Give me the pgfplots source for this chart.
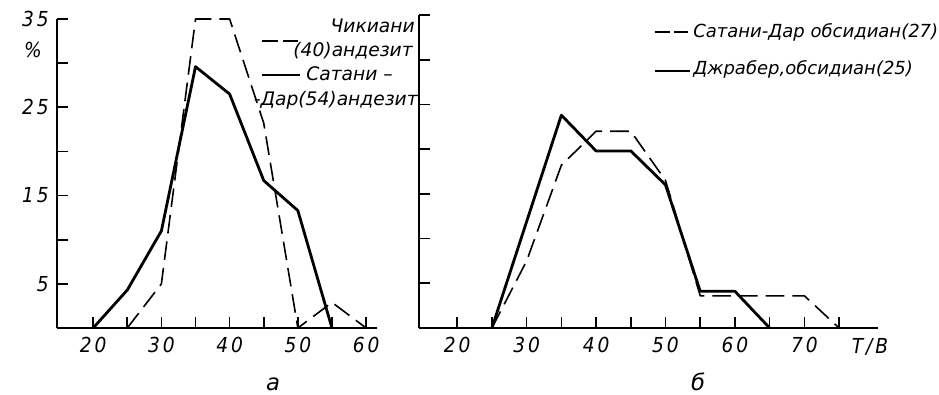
\documentclass[border=0pt]{standalone}
\usepackage{pgfplots}
\pgfplotsset{compat=1.18}
\usepackage{fontspec}
\setmainfont{DejaVu Sans Condensed}[ItalicFont={DejaVu Sans Condensed Oblique}]
\newfontfamily\tickfont{DejaVu Sans Condensed Oblique}[LetterSpace=14]
\newfontfamily\legfont{DejaVu Sans Oblique}

\pgfplotstableread{
x y
20 0
25 4.3
30 11
35 29.6
40 26.5
45 16.7
50 13.3
55 0
}\andsolid
\pgfplotstableread{
x y
25 0
30 5
35 35
40 35
45 23.2
50 0
55 2.9
60 0
}\anddashed
\pgfplotstableread{
x y
25 0
35 23.8
40 19.8
45 19.8
50 16
55 4.1
60 4.1
65 0
}\obssolid
\pgfplotstableread{
x y
25 0
30 7.5
35 18.2
40 22
45 22
50 16.5
55 3.6
70 3.6
75 0
}\obsdashed

\pgfplotsset{
  panel/.style={
    scale only axis,
    axis x line*=bottom, axis y line*=left,
    axis line style={line width=1.6pt},
    tick align=inside,
    major tick length=8pt,
    every tick/.style={line width=1.2pt, black},
    ymin=0, ymax=35,
    ytick={5,10,...,35},
    /pgf/number format/assume math mode=true,
    xticklabel style={font=\tickfont\fontsize{15.5}{16}\selectfont, anchor=north, inner sep=0pt, yshift=-7pt},
    yticklabel style={font=\tickfont\fontsize{15.5}{16}\selectfont, anchor=east, inner sep=0pt, xshift=-6pt},
    clip=false,
  },
  solidser/.style={black, line width=2.1pt, line join=round},
  dashser/.style={black, line width=1.2pt, dash pattern=on 14pt off 6pt, line join=round},
}

\begin{document}
\begin{tikzpicture}
\path (0,0) rectangle (704.25pt,294pt);

\begin{axis}[panel,
  at={(42.75pt,48pt)}, anchor=south west,
  width=240pt, height=231.75pt,
  xmin=14.7, xmax=61.6,
  xtick={20,25,...,60},
  xticklabels={20,,30,,40,,50,,60},
  yticklabels={5,,15,,25,,35},
]
\addplot[dashser] table[x=x,y=y] {\anddashed};
\addplot[solidser] table[x=x,y=y] {\andsolid};
\end{axis}

\begin{axis}[panel,
  at={(314.25pt,48pt)}, anchor=south west,
  width=344.25pt, height=234.75pt,
  xmin=14.5, xmax=80.6,
  xtick={20,25,...,75},
  xticklabels={20,,30,,40,,50,,60,,70,},
  yticklabels={},
]
\addplot[dashser] table[x=x,y=y] {\obsdashed};
\addplot[solidser] table[x=x,y=y] {\obssolid};
\end{axis}

% percent sign
\node[font=\tickfont\fontsize{15.5}{16}\selectfont] at (24.75pt,256.5pt) {\%};
% T/B
\node[font=\tickfont\fontsize{15.5}{16}\selectfont, anchor=base] at (652.5pt,29pt) {T/B};
% panel letters
\node[font=\legfont\fontsize{17}{18}\selectfont, anchor=base] at (204.75pt,1.5pt) {а};
\node[font=\legfont\fontsize{17}{18}\selectfont, anchor=base] at (523.5pt,1.5pt) {б};

% left legend
\begin{scope}[every node/.style={font=\legfont\fontsize{14}{15}\selectfont, inner sep=0pt}]
\node[anchor=base east] at (311.25pt,269.25pt) {Чикиани};
\node[anchor=base east] at (309.75pt,251.25pt) {(40)андезит};
\node[anchor=base east] at (294.75pt,233.25pt) {Сатани –};
\node[anchor=base east] at (313.5pt,214.5pt) {-Дар(54)андезит};
\end{scope}
\draw[black, line width=1.2pt, dash pattern=on 12pt off 4pt] (196.5pt,263.25pt) -- (223.5pt,263.25pt);
\draw[black, line width=2.1pt] (196.5pt,237.75pt) -- (225pt,237.75pt);

% right legend
\begin{scope}[every node/.style={font=\legfont\fontsize{13.5}{14}\selectfont, inner sep=0pt}]
\draw[black, line width=1.2pt, dash pattern=on 11pt off 3pt] (491.25pt,270pt) -- (517.5pt,270pt);
\node[anchor=base west] at (519.75pt,265.5pt) {Сатани-Дар обсидиан(27)};
\draw[black, line width=2.1pt] (491.25pt,240.75pt) -- (517.5pt,240.75pt);
\node[anchor=base west] at (519.75pt,237.75pt) {Джрабер,обсидиан(25)};
\end{scope}
\end{tikzpicture}
\end{document}
